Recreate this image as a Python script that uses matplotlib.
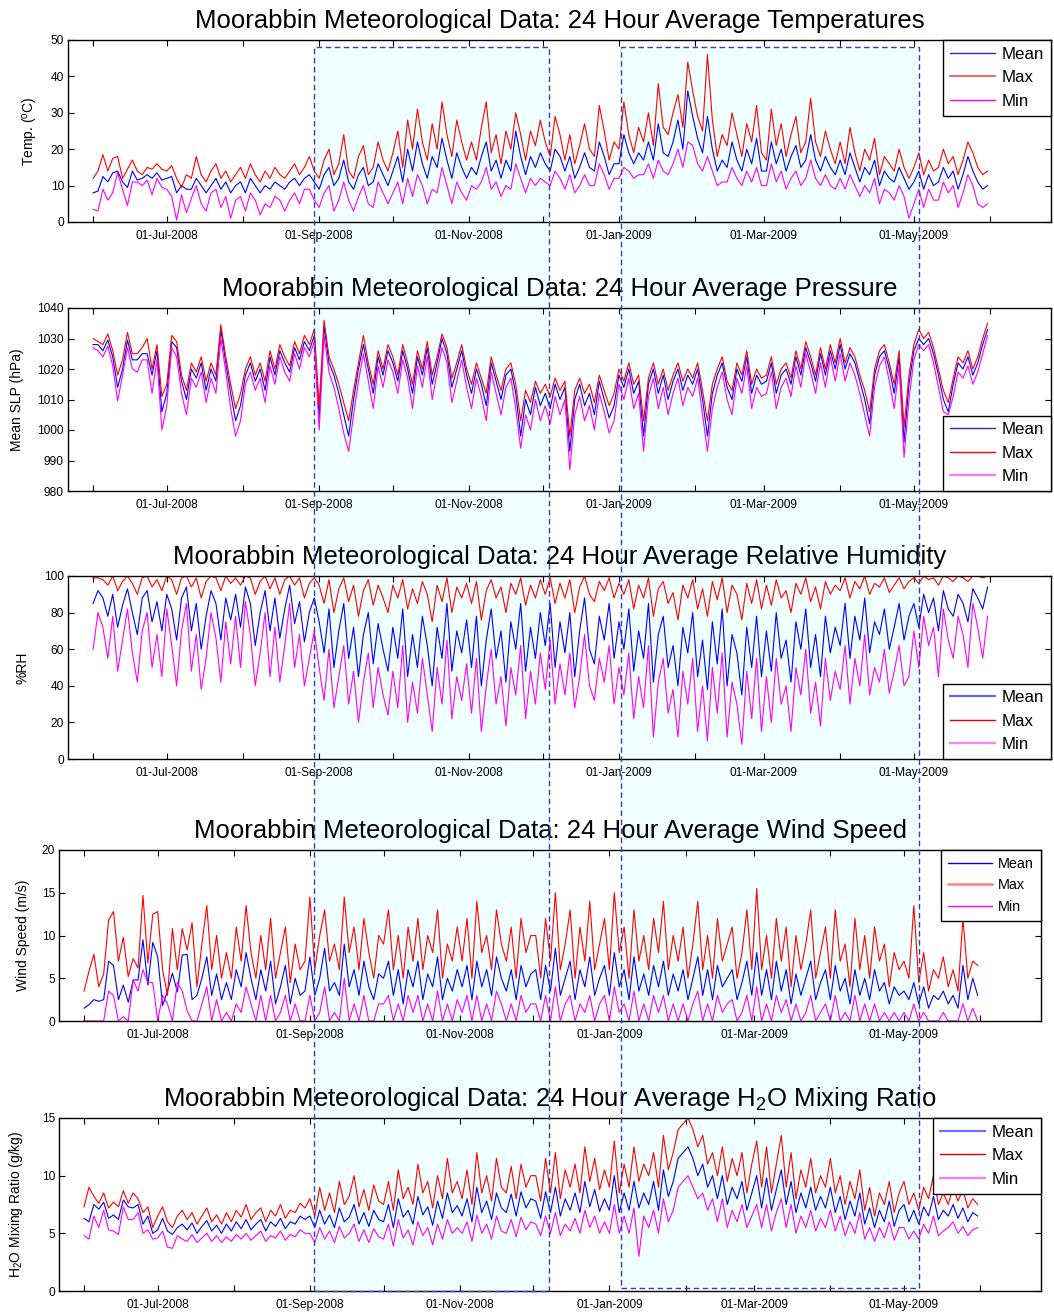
import numpy as np
import pandas as pd
import matplotlib
matplotlib.use('Agg')
import matplotlib.pyplot as plt
import matplotlib.dates as mdates
from matplotlib.patches import Rectangle
from matplotlib.lines import Line2D

plt.rcParams['font.family'] = ['Liberation Sans', 'DejaVu Sans']
plt.rcParams['mathtext.default'] = 'regular'

# ---------------- data (sampled every 2 days from 01-Jun-2008) ----------------
start_date = '2008-06-01'
step_days = 2
series_names = ['Mean', 'Max', 'Min']

temp_mean = [8, 8.5, 12.5, 11, 13.5, 14, 11, 9.5, 14, 11.5, 12, 13, 12, 13.5, 11.5,
             12, 12.5, 8, 10, 9, 9, 12, 10, 8, 10, 12, 9, 11, 8, 10,
             11, 8, 12, 10, 8, 10, 9, 11, 10, 9, 11, 12, 10, 12, 13, 11,
             9, 13, 15, 10, 12, 17, 11, 9, 13, 15, 10, 11, 16, 13, 10,
             14, 18, 11, 20, 14, 22, 16, 12, 18, 15, 23, 17, 12, 19, 15, 12,
             15, 13, 18, 22, 14, 17, 12, 17, 14, 25, 18, 13, 18, 15, 19,
             16, 14, 20, 18, 14, 18, 12, 15, 19, 15, 14, 22, 18, 13, 16,
             16, 24, 19, 16, 19, 17, 22, 17, 27, 19, 18, 22, 28, 20, 36, 29,
             23, 19, 29, 20, 14, 17, 15, 22, 17, 14, 20, 16, 23, 14,
             14, 22, 16, 20, 14, 18, 21, 15, 17, 24, 17, 14, 18, 15, 13,
             17, 13, 19, 15, 11, 15, 13, 17, 10, 14, 12, 11, 15, 12, 9,
             11, 14, 9, 13, 10, 11, 15, 12, 14, 9, 13, 18, 14, 11, 9, 10]
temp_max = [12, 14, 18.5, 14, 17.5, 18, 12, 14.5, 17, 14, 13, 15, 14.5, 16, 14.5,
            14, 15.5, 12, 9.5, 13, 12, 18, 13, 11, 14, 16, 12, 14, 11, 13,
            15, 12, 16, 13, 11, 14, 12, 15, 13, 12, 14, 16, 13, 15, 18, 14,
            12, 17, 20, 13, 16, 24, 14, 12, 18, 21, 13, 15, 22, 17, 14,
            19, 25, 15, 28, 20, 31, 22, 17, 27, 20, 33, 24, 18, 28, 22, 17,
            22, 17, 26, 33, 19, 24, 16, 25, 20, 30, 24, 17, 25, 21, 28,
            22, 18, 29, 24, 17, 24, 16, 21, 27, 20, 18, 32, 25, 17, 22,
            20, 33, 24, 19, 26, 22, 30, 21, 38, 26, 24, 30, 35, 26, 44, 36,
            29, 25, 46, 28, 18, 24, 21, 30, 24, 18, 27, 22, 32, 19,
            17, 31, 21, 27, 18, 24, 29, 19, 22, 34, 22, 18, 25, 20, 16,
            22, 16, 26, 19, 14, 20, 17, 23, 13, 18, 16, 14, 20, 15, 12,
            15, 19, 13, 17, 14, 15, 20, 16, 18, 13, 17, 22, 19, 15, 13, 14]
temp_min = [3.5, 3, 9, 6, 8, 13.5, 9, 4.5, 11, 11, 10, 11.5, 7.5, 12, 9.5,
            9, 7, 0.5, 7.5, 2.5, 6.5, 10, 5, 3, 8, 9, 4, 7, 1, 6,
            7, 3, 8, 6, 2, 5, 4, 7, 6, 3, 6, 8, 5, 9, 9, 6,
            4, 8, 10, 3, 6, 11, 6, 3, 7, 10, 5, 4, 11, 8, 5,
            8, 11, 5, 12, 7, 13, 10, 5, 9, 8, 15, 10, 5, 11, 8, 6,
            10, 9, 11, 15, 9, 11, 7, 10, 9, 16, 12, 8, 12, 10, 12,
            11, 10, 14, 12, 9, 13, 8, 10, 13, 10, 10, 16, 13, 9, 12,
            12, 15, 14, 12, 13, 13, 16, 12, 17, 14, 13, 16, 20, 15, 22, 21,
            16, 14, 18, 14, 10, 11, 11, 15, 12, 10, 14, 11, 15, 10,
            10, 16, 11, 14, 9, 12, 14, 10, 12, 17, 12, 10, 13, 10, 9,
            12, 9, 13, 10, 7, 10, 8, 12, 5, 9, 8, 6, 10, 7, 1,
            5, 9, 4, 9, 6, 6, 11, 8, 10, 4, 8, 13, 10, 5, 4, 5]

pres_mean = [1028, 1028, 1026, 1029.5, 1024, 1014, 1020, 1029.5, 1023, 1023, 1025, 1025, 1018, 1026, 1006,
             1012, 1029, 1027, 1016, 1010, 1020, 1017, 1022, 1013, 1020, 1016, 1033, 1022, 1012, 1003,
             1008, 1018, 1022, 1016, 1020, 1013, 1024, 1018, 1026, 1022, 1019, 1027, 1023, 1029, 1026, 1031,
             1004, 1034, 1022, 1018, 1012, 1005, 998, 1010, 1020, 1028, 1020, 1012, 1024, 1018, 1026,
             1022, 1016, 1026, 1020, 1012, 1024, 1018, 1027, 1015, 1022, 1030, 1025, 1014, 1020, 1026, 1018,
             1012, 1020, 1015, 1008, 1022, 1016, 1010, 1018, 1020, 1012, 998, 1010, 1005, 1014, 1008,
             1012, 1007, 1015, 1010, 1014, 993, 1010, 1015, 1008, 1012, 1005, 1016, 1010, 1004, 1008,
             1018, 1014, 1020, 1012, 1016, 998, 1015, 1020, 1012, 1018, 1010, 1016, 1020, 1013, 1018, 1015,
             1020, 1010, 998, 1012, 1018, 1022, 1014, 1010, 1020, 1016, 1024, 1012, 1018, 1015,
             1016, 1022, 1012, 1018, 1020, 1015, 1024, 1018, 1027, 1022, 1016, 1025, 1018, 1026, 1020,
             1028, 1020, 1025, 1022, 1016, 1010, 1002, 1018, 1024, 1026, 1020, 1012, 1024, 996, 1015,
             1026, 1030, 1028, 1030, 1025, 1018, 1010, 1006, 1015, 1022, 1020, 1024, 1018, 1022, 1028, 1033]
pres_max = [1030, 1029, 1028, 1031.5, 1026, 1018, 1023, 1032, 1025, 1025, 1027, 1030, 1020, 1028, 1011,
            1015, 1031, 1029, 1018, 1013, 1022, 1019, 1024, 1016, 1022, 1018, 1034.5, 1024, 1015, 1007,
            1012, 1020, 1024, 1018, 1022, 1016, 1026, 1020, 1028, 1024, 1021, 1029, 1025, 1031, 1028, 1033,
            1008, 1036, 1024, 1020, 1015, 1009, 1003, 1013, 1022, 1031, 1022, 1015, 1026, 1020, 1028,
            1024, 1018, 1028, 1022, 1015, 1026, 1020, 1029, 1018, 1024, 1031.5, 1027, 1017, 1022, 1028, 1020,
            1015, 1022, 1017, 1012, 1024, 1018, 1013, 1020, 1022, 1015, 1003, 1013, 1009, 1016, 1012,
            1015, 1011, 1017, 1013, 1016, 998, 1013, 1017, 1012, 1015, 1009, 1018, 1013, 1008, 1012,
            1020, 1016, 1022, 1015, 1018, 1003, 1017, 1022, 1015, 1020, 1013, 1018, 1022, 1016, 1020, 1017,
            1022, 1013, 1003, 1015, 1020, 1024, 1016, 1013, 1022, 1018, 1026, 1015, 1020, 1017,
            1018, 1024, 1015, 1020, 1022, 1017, 1026, 1020, 1029, 1024, 1018, 1027, 1020, 1028, 1022,
            1030, 1022, 1027, 1024, 1018, 1013, 1006, 1020, 1026, 1028, 1022, 1015, 1026, 1001, 1018,
            1028, 1033, 1030, 1032, 1027, 1020, 1013, 1009, 1017, 1024, 1022, 1026, 1020, 1024, 1030, 1035]
pres_min = [1027, 1026, 1024, 1027.5, 1021, 1009.5, 1018, 1027, 1020, 1019, 1023, 1023, 1012, 1023, 1000,
            1008, 1027, 1024, 1012, 1005, 1017, 1014, 1019, 1009, 1017, 1012, 1030, 1019, 1007, 998,
            1003, 1015, 1019, 1013, 1017, 1009, 1021, 1015, 1024, 1019, 1016, 1025, 1020, 1027, 1024, 1029,
            1000, 1031, 1019, 1014, 1007, 999, 993, 1005, 1016, 1025, 1016, 1007, 1021, 1014, 1023,
            1019, 1012, 1023, 1017, 1007, 1021, 1014, 1024, 1010, 1019, 1027, 1022, 1009, 1016, 1023, 1014,
            1007, 1017, 1011, 1003, 1019, 1012, 1005, 1014, 1017, 1007, 994, 1005, 1000, 1010, 1003,
            1008, 1002, 1011, 1005, 1010, 987, 1005, 1011, 1003, 1008, 1000, 1012, 1006, 999, 1003,
            1015, 1010, 1017, 1007, 1012, 993, 1011, 1017, 1007, 1014, 1005, 1012, 1017, 1008, 1014, 1011,
            1017, 1005, 993, 1007, 1014, 1019, 1010, 1005, 1017, 1012, 1021, 1007, 1014, 1011,
            1012, 1019, 1007, 1014, 1017, 1011, 1021, 1014, 1025, 1019, 1012, 1022, 1014, 1024, 1016,
            1025, 1016, 1022, 1018, 1012, 1005, 998, 1014, 1021, 1024, 1016, 1007, 1021, 991, 1010,
            1023, 1028, 1026, 1028, 1022, 1014, 1006, 1005, 1011, 1019, 1017, 1021, 1015, 1019, 1025, 1031]

rh_mean = [85, 92, 88, 78, 90, 72, 84, 93, 80, 68, 88, 92, 75, 86, 70,
           90, 82, 65, 88, 94, 70, 85, 60, 78, 92, 85, 65, 88, 76, 90,
           72, 94, 85, 62, 80, 92, 70, 88, 66, 82, 95, 74, 86, 64, 80, 88,
           75, 58, 82, 50, 70, 85, 55, 72, 45, 68, 80, 52, 74, 60, 48,
           72, 55, 82, 45, 68, 50, 78, 62, 40, 72, 55, 85, 48, 70, 58, 76,
           50, 78, 40, 65, 82, 55, 70, 42, 75, 60, 85, 48, 72, 55, 80,
           62, 85, 50, 75, 58, 80, 45, 70, 88, 60, 52, 78, 65, 85, 55,
           75, 60, 82, 48, 70, 55, 85, 42, 68, 78, 50, 62, 40, 72, 58, 80,
           45, 65, 38, 75, 52, 82, 40, 68, 58, 35, 72, 50, 78, 45,
           70, 48, 80, 55, 65, 42, 75, 60, 82, 50, 68, 45, 78, 58, 72,
           62, 85, 55, 78, 65, 88, 58, 75, 68, 82, 60, 72, 85, 65, 78,
           85, 72, 90, 80, 88, 70, 92, 82, 78, 90, 85, 75, 93, 88, 82, 94]
rh_max = [99, 99, 98, 95, 100, 92, 97, 100, 96, 90, 99, 100, 94, 98, 92,
          100, 98, 90, 99, 100, 94, 99, 88, 97, 100, 99, 92, 100, 96, 99,
          95, 100, 99, 90, 97, 100, 93, 99, 90, 98, 100, 95, 99, 88, 96, 99,
          95, 85, 98, 80, 93, 99, 86, 95, 78, 92, 98, 84, 95, 88, 80,
          95, 88, 98, 82, 93, 85, 97, 90, 75, 95, 86, 99, 80, 94, 88, 96,
          85, 97, 76, 92, 98, 88, 94, 80, 96, 90, 99, 84, 95, 88, 98,
          90, 99, 85, 96, 88, 98, 80, 94, 100, 90, 86, 97, 92, 99, 88,
          96, 90, 98, 82, 95, 88, 99, 78, 93, 97, 85, 91, 76, 95, 88, 98,
          82, 93, 78, 97, 87, 99, 80, 95, 90, 76, 96, 85, 98, 82,
          95, 84, 98, 88, 92, 80, 96, 90, 99, 86, 94, 82, 97, 90, 95,
          92, 99, 88, 97, 93, 100, 90, 96, 94, 99, 91, 95, 99, 93, 97,
          99, 96, 100, 98, 99, 95, 100, 99, 97, 100, 99, 97, 100, 100, 99, 100]
rh_min = [60, 80, 72, 55, 78, 48, 65, 82, 58, 42, 70, 80, 50, 68, 45,
          82, 62, 40, 70, 85, 48, 68, 38, 55, 80, 66, 42, 75, 52, 78,
          50, 86, 68, 40, 58, 80, 45, 72, 42, 62, 85, 50, 68, 40, 55, 70,
          50, 32, 60, 28, 45, 62, 30, 48, 20, 42, 58, 28, 50, 35, 24,
          48, 28, 62, 20, 42, 25, 55, 35, 15, 50, 30, 65, 22, 45, 32, 52,
          25, 55, 15, 40, 60, 30, 45, 18, 50, 35, 62, 22, 48, 30, 58,
          38, 65, 30, 52, 35, 58, 28, 45, 68, 40, 32, 55, 42, 62, 30,
          50, 35, 58, 22, 45, 28, 62, 12, 42, 55, 25, 38, 12, 48, 30, 55,
          15, 40, 10, 50, 25, 58, 12, 42, 30, 8, 48, 22, 55, 15,
          45, 20, 55, 30, 40, 15, 50, 35, 60, 25, 42, 18, 55, 32, 48,
          38, 62, 30, 55, 40, 68, 35, 50, 42, 60, 36, 48, 62, 40, 45,
          70, 50, 78, 62, 72, 45, 82, 65, 55, 78, 68, 50, 85, 72, 55, 78]

wind_mean = [1.5, 1.9, 2.5, 2.3, 2.5, 7, 6.5, 2.5, 4.2, 2.2, 4.8, 4.8, 9.5, 4.2, 9.2,
             7.5, 1.8, 3.5, 5.6, 3.4, 7.7, 7.8, 2.5, 3, 5, 7.5, 3, 5.5, 2.5, 4.5,
             2.5, 6, 4, 8, 5, 2.5, 6, 3.5, 7, 2, 4, 6.5, 2, 5, 3, 3.5,
             7.5, 3, 5, 8.5, 3.5, 4.5, 3, 9, 4, 6, 3, 7, 4, 2.5, 5.5,
             5, 7, 3, 6, 2, 6, 4, 7, 2.5, 5.5, 4, 7.5, 2.5, 5, 3.5, 6,
             4, 6.5, 2.5, 7, 4, 6, 3, 7.5, 5, 3.5, 6, 2.5, 6.5, 4, 5.5,
             6, 2.5, 6.5, 3.5, 8.5, 3, 5, 7, 2.5, 6, 4, 7.5, 3, 5, 6.5,
             3, 8, 4, 6, 2.5, 7.5, 3.5, 5.5, 3, 6.5, 4, 7, 3, 5.5, 3.5, 6,
             2.5, 5, 7.5, 3, 6, 2.5, 6.5, 4, 5, 6, 2.5, 4.5, 7, 3,
             8, 3, 6, 2.5, 7, 3.5, 6, 2, 5.5, 3, 5, 7, 2.5, 4.5, 6,
             2.5, 6.5, 3.5, 5, 2, 6, 3, 5, 2.5, 6, 3.5, 4.5, 2, 4, 3,
             3.5, 2.5, 4.5, 2, 4, 1.5, 3, 2.5, 3.5, 2, 3, 1.5, 6.5, 2.5, 5, 3]
wind_max = [3.5, 5.8, 7.8, 4, 5.5, 11.8, 12.8, 7, 9.8, 5.2, 7.3, 6.2, 14.7, 6.8, 12.5,
            12.8, 6, 3, 10.8, 6, 10.8, 8.3, 11.5, 4, 9, 13.5, 6, 10, 5, 8,
            5, 11, 7, 13.5, 8, 5, 10, 6, 12, 5, 8, 11, 4.5, 9, 6, 7,
            14.5, 6, 10, 13, 7, 9, 6, 14.5, 8, 11, 6, 12, 8, 5, 10,
            9, 13, 6, 10, 5, 11, 7, 12, 6, 10, 8, 13, 5, 9, 7, 11,
            7, 12, 5, 14, 8, 10, 6, 13, 9, 7, 11, 5, 12, 8, 10,
            10, 5, 12, 7, 15, 6, 9, 13, 5, 11, 7, 14, 6, 9, 12,
            6, 15, 8, 11, 5, 13, 7, 10, 6, 12, 8, 14, 6, 10, 7, 11,
            5, 9, 14, 6, 10, 5, 12, 7, 9, 11, 5, 8, 13, 6,
            15.5, 6, 10, 5, 12, 7, 11, 4, 10, 6, 9, 13, 5, 8, 11,
            5, 13, 7, 9, 4, 12, 6, 10, 5, 11, 7, 9, 4, 8, 6,
            7, 5, 13.5, 4.5, 8, 3.5, 6, 5, 7.5, 4, 6, 3.5, 12, 5, 7, 6.5]
wind_min = [0, 0, 0, 0, 0, 3.5, 3, 0, 0.5, 0, 4.8, 3.5, 6, 4.5, 4.5,
            0, 3, 2, 0, 4.5, 3.5, 1.2, 0, 0, 2, 4, 0, 2.5, 0, 1,
            0, 2, 1, 4, 2, 0, 3, 0, 3, 0, 1, 3, 0, 2, 0, 0,
            3, 0, 1, 4, 0, 1, 0, 5, 0, 2, 0, 3, 0, 0, 2,
            2, 3, 0, 2, 0, 3, 1, 3, 0, 2, 0, 3.5, 0, 2, 0, 2.5,
            1, 3, 0, 3, 0, 2, 0, 3.5, 2, 0, 2, 0, 3, 1, 2,
            2, 0, 3, 0, 4, 0, 2, 3, 0, 2, 1, 3, 0, 2, 3,
            0, 4, 1, 2, 0, 3.5, 0, 2, 0, 3, 1, 3, 0, 2, 0, 2,
            0, 2, 3.5, 0, 2, 0, 3, 1, 2, 2.5, 0, 1, 3, 0,
            4, 0, 2, 0, 3, 1, 2.5, 0, 2, 0, 1, 3, 0, 1, 2,
            0, 3, 0, 1, 0, 3, 0, 2, 0, 2, 0, 1, 0, 1, 0,
            1, 0, 2, 0, 1, 0, 0, 0, 1, 0, 0, 0, 2, 0, 1.5, 0]

mix_mean = [6.3, 6, 7.5, 7.1, 7.7, 6.3, 6.6, 6.2, 7.9, 7.3, 7.2, 7.5, 5.8, 6.5, 5,
            5.3, 6.3, 5.2, 4.9, 5.5, 5.8, 5.3, 5.9, 5, 5.6, 6.1, 5.2, 5.7, 5, 5.8,
            5.2, 6, 5.4, 6.2, 5.3, 5.8, 6.2, 5.2, 6, 5.6, 6.3, 5.4, 6, 5.8, 6.5, 6.2,
            6.5, 5.5, 7, 5.8, 6.6, 5.5, 7.2, 6, 6.4, 7.5, 5.8, 6.8, 5.6, 7, 6.2,
            6, 7.5, 5.5, 8, 6.4, 7, 5.8, 8.2, 6.6, 7.3, 5.7, 7.8, 6.3, 8.5, 6.8, 7.4,
            6.5, 8, 6, 9, 6.8, 7.8, 6.2, 8.5, 7.2, 6.8, 8.4, 6.5, 8.6, 7.2, 8,
            7.8, 6.3, 8.6, 6.8, 9, 6.5, 8, 7, 8.5, 6.8, 9.5, 7.3, 8.8, 6.9, 8,
            7, 10, 6.8, 8.5, 7, 9.5, 7.2, 8.5, 7.5, 9.5, 7, 10.5, 8.2, 9.5, 11.5, 12,
            12.5, 11.5, 10, 11, 9, 10, 8, 10, 7.5, 9, 8, 9.5, 7, 8.5,
            10, 7.2, 9.8, 7, 8.8, 10.5, 7.5, 9.5, 6.8, 8.5, 7.2, 9, 7, 8.2, 7.2,
            9, 6.8, 8.2, 6.2, 7.8, 6.5, 8.5, 5.8, 7.2, 5.5, 7, 6, 7.8, 5.6, 7,
            7.5, 6, 7, 5.8, 7.3, 6.5, 8.2, 6.2, 7, 6.5, 7.5, 6.3, 7.2, 6, 6.8, 6.5]
mix_max = [7.3, 9, 8.2, 7.6, 8.5, 7.2, 7.7, 7.3, 8.7, 7.6, 8.5, 8, 6.8, 7.3, 5.5,
           6.5, 7.3, 6, 5.5, 6.5, 7, 6.2, 6.8, 5.8, 6.5, 7.2, 6, 6.6, 5.8, 6.8,
           6, 7, 6.4, 7.5, 6.2, 6.8, 7.2, 6, 7, 6.5, 7.5, 6.3, 7, 6.8, 7.6, 7.2,
           8, 6.5, 9, 7, 8.5, 6.8, 9.5, 7.5, 8.2, 10, 7.3, 8.8, 7, 9.2, 7.8,
           7.5, 9.5, 7, 10.5, 8, 9, 7.5, 11, 8.5, 9.5, 7.2, 10, 8, 11.5, 8.5, 9.5,
           8, 10.5, 7.5, 12, 8.5, 10, 7.8, 11.5, 9, 8.5, 10.8, 8, 11, 9, 10,
           10, 7.8, 11.5, 8.5, 12, 8, 10.5, 9, 11, 8.5, 12.5, 9.5, 11.5, 8.8, 10.5,
           9, 13, 8.5, 11, 9, 12.5, 9.5, 11, 10, 12, 9, 13.5, 10.5, 12, 14, 14.5,
           15, 14, 12.5, 13.5, 11, 12, 10, 12.5, 9.5, 11.5, 10, 12, 8.5, 11,
           13, 9, 12.5, 8.5, 11, 13.5, 9, 12, 8, 10.5, 9, 11.5, 8.5, 10, 9,
           11.5, 8.5, 10, 7.5, 9.5, 8, 10.5, 7, 9, 6.5, 8.5, 7.5, 9.5, 6.8, 8.5,
           9.5, 7.5, 8.5, 7, 9, 8, 10, 7.5, 8.5, 7.5, 9, 7.8, 8.8, 7.2, 8, 7.5]
mix_min = [4.8, 4.5, 6.5, 5.5, 7, 5.3, 5.2, 4.9, 7.3, 6.2, 6.2, 6.8, 5, 5.3, 4.5,
           4.6, 5.2, 3.8, 3.7, 4.8, 4.5, 4.3, 4.9, 4.2, 4.6, 5, 4.3, 4.8, 4.2, 4.7,
           4.3, 4.9, 4.5, 5, 4.4, 4.8, 5.2, 4.3, 4.8, 4.6, 5.2, 4.4, 4.9, 4.7, 5.3, 5,
           5, 4.2, 5.5, 4.5, 5.2, 4.2, 5.6, 4.6, 5, 5.8, 4.3, 5.3, 4.2, 5.4, 4.7,
           4.5, 5.8, 3.9, 6.2, 4.6, 5.3, 4, 6, 4.8, 5.5, 4, 5.8, 4.5, 6.2, 5, 5.5,
           5, 6, 4.3, 6.6, 5, 5.8, 4.5, 6.5, 5.2, 5, 6.2, 4.7, 6.4, 5.3, 6,
           5.8, 4.8, 6.5, 5, 6.8, 4.8, 5.8, 5.2, 6.3, 5, 7, 5.5, 6.5, 5, 6,
           5, 7.5, 5, 6.5, 5, 7.2, 3, 6.5, 5.5, 7, 5, 8, 6, 7, 9, 9.5,
           10, 9, 8, 8.5, 7, 8, 6, 8, 5.5, 7, 6, 7.5, 5.5, 6.5,
           7.5, 5.5, 7.5, 5.2, 6.8, 8, 5.5, 7.5, 5, 6.5, 5.5, 7, 5.2, 6.3, 5.5,
           7, 5.2, 6.5, 4.8, 6, 5, 6.8, 4.5, 5.5, 4.3, 5.5, 4.6, 6, 4.4, 5.5,
           5.5, 4.5, 5.2, 4.5, 5.8, 5, 6.5, 4.8, 5.2, 5.5, 6, 5, 5.6, 4.8, 5.3, 5.5]

titles = ['Moorabbin Meteorological Data: 24 Hour Average Temperatures',
          'Moorabbin Meteorological Data: 24 Hour Average Pressure',
          'Moorabbin Meteorological Data: 24 Hour Average Relative Humidity',
          'Moorabbin Meteorological Data: 24 Hour Average Wind Speed',
          r'Moorabbin Meteorological Data: 24 Hour Average H$_2$O Mixing Ratio']
ylabels = [r'Temp. ($^{o}$C)', 'Mean SLP (hPa)', '%RH', 'Wind Speed (m/s)',
           r'H$_2$O Mixing Ratio (g/kg)']
yticks_list = [[0, 10, 20, 30, 40, 50],
               [980, 990, 1000, 1010, 1020, 1030, 1040],
               [0, 20, 40, 60, 80, 100],
               [0, 5, 10, 15, 20],
               [0, 5, 10, 15]]

# ---------------- layout ----------------
W, H = 1054, 1313
fig = plt.figure(figsize=(W / 100, H / 100), dpi=100)


def fpos(l, t, r, b):
    return [l / W, 1 - b / H, (r - l) / W, (b - t) / H]


boxes = [(68, 40, 1051, 222), (68, 308, 1051, 491), (68, 576, 1051, 759),
         (59, 850, 1041, 1021), (59, 1118, 1041, 1291)]
label_x = [-0.0285, -0.0448, -0.0387, -0.0293, -0.0343]
legend_loc = ['upper right', 'lower right', 'lower right', 'upper right', 'upper right']
legend_fs = [12.2, 12.2, 12.2, 10.4, 12.2]
legend_ls = [0.5, 0.5, 0.5, 0.5, 0.5]
legend_hl = [2.65, 2.65, 2.65, 3.05, 2.65]
legend_bp = [0.4, 0.4, 0.4, 0.5, 0.4]
legend_colors = [['#2a2ae6', '#ff6464', '#ff00ff'],
                 ['#2a2ae6', '#ff0000', '#ff78ff'],
                 ['#6464ff', '#e00000', '#ff80ff'],
                 ['#0000ff', '#ff8080', '#ff00ff'],
                 ['#7070ff', '#e00000', '#ff78ff']]
legend_lw = [[1.0, 1.4, 1.0], [1.0, 1.0, 1.6], [1.6, 1.0, 1.6],
             [1.0, 1.8, 1.0], [1.6, 1.0, 1.6]]

data = [(temp_mean, temp_max, temp_min), (pres_mean, pres_max, pres_min),
        (rh_mean, rh_max, rh_min), (wind_mean, wind_max, wind_min),
        (mix_mean, mix_max, mix_min)]
line_colors = ['#0000ff', '#ff0000', '#ff00ff']

# highlighted periods (figure-level boxes)
rects_px = [(314, 47, 549, 1291), (621, 47, 919, 1288)]
for (l, t, r, b) in rects_px:
    fig.patches.append(Rectangle((l / W, 1 - b / H), (r - l) / W, (b - t) / H,
                                 transform=fig.transFigure, facecolor='#f0ffff',
                                 edgecolor='none', zorder=-1))
    fig.patches.append(Rectangle((l / W, 1 - b / H), (r - l) / W, (b - t) / H,
                                 transform=fig.transFigure, facecolor='none',
                                 edgecolor='#3a3ab8', lw=1.0,
                                 linestyle=(0, (4, 2.5)), zorder=10))

x0 = pd.Timestamp(start_date)
xlim = (mdates.date2num(x0 - pd.Timedelta(days=10.2)),
        mdates.date2num(x0 + pd.Timedelta(days=389.8)))


def fmt(x, pos=None):
    d = mdates.num2date(x)
    return d.strftime('%d-%b-%Y') if d.month % 2 == 1 else ''


for k in range(5):
    ax = fig.add_axes(fpos(*boxes[k]))
    ax.patch.set_alpha(0)
    for s, c in zip(data[k], line_colors):
        dates = pd.date_range(start_date, periods=len(s), freq=f'{step_days}D')
        ax.plot(dates, s, color=c, lw=0.8)
    ax.set_xlim(xlim)
    ax.set_ylim(yticks_list[k][0], yticks_list[k][-1])
    ax.set_yticks(yticks_list[k])
    ax.xaxis.set_major_locator(mdates.MonthLocator())
    ax.xaxis.set_major_formatter(plt.FuncFormatter(fmt))
    ax.tick_params(direction='in', length=4, width=0.8, top=True, right=True,
                   labelsize=8.6)
    ax.tick_params(axis='x', pad=5.5)
    ax.tick_params(axis='y', pad=3)
    for sp in ax.spines.values():
        sp.set_linewidth(1.0)
    ax.set_title(titles[k], fontsize=18.5, pad=8.6)
    ax.set_ylabel(ylabels[k], fontsize=10)
    ax.yaxis.set_label_coords(label_x[k], 0.5)
    handles = [Line2D([], [], color=c, lw=lw)
               for c, lw in zip(legend_colors[k], legend_lw[k])]
    leg = ax.legend(handles, series_names, loc=legend_loc[k], fontsize=legend_fs[k],
                    frameon=True, fancybox=False, edgecolor='black', framealpha=1,
                    borderaxespad=0, handlelength=legend_hl[k], handletextpad=0.42,
                    borderpad=legend_bp[k], labelspacing=legend_ls[k])
    leg.get_frame().set_linewidth(1.0)

fig.savefig('out.png', dpi=100)
